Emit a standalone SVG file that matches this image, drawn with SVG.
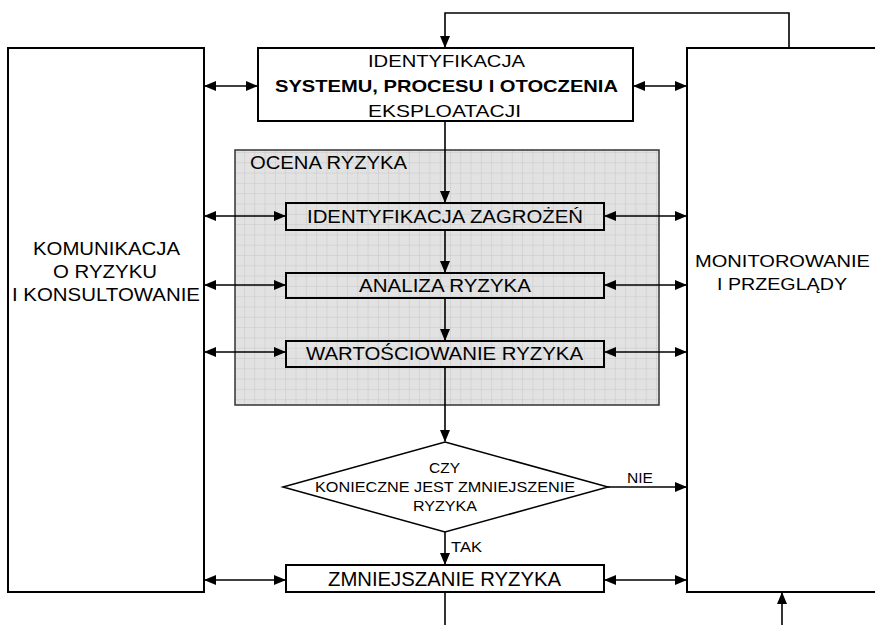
<svg xmlns="http://www.w3.org/2000/svg" width="875" height="625" viewBox="0 0 875 625">
<style>
.box{fill:#fff;stroke:#000;stroke-width:2}
.ibox{fill:none;stroke:#000;stroke-width:2}
.t{font-family:"Liberation Sans",Arial,sans-serif;font-size:17px;fill:#000}
.l{font-size:18px}
.z{font-size:20px}
.s{font-family:"Liberation Sans",Arial,sans-serif;font-size:15px;fill:#000}
.n{font-family:"Liberation Sans",Arial,sans-serif;font-size:14px;fill:#000}
.b{font-weight:bold}
.c{stroke:#000;stroke-width:1.6;fill:none}
</style>
<defs>
<marker id="ah" markerUnits="userSpaceOnUse" markerWidth="12" markerHeight="10" refX="11" refY="5" orient="auto-start-reverse" viewBox="0 0 12 10">
<path d="M0,0 L12,5 L0,10 Z" fill="#000"/>
</marker>
<pattern id="grid" patternUnits="userSpaceOnUse" width="10.3" height="10.3" x="244" y="152">
<rect width="10.3" height="10.3" fill="#e2e2e2"/>
<path d="M0,0 H10.3 M0,0 V10.3" stroke="#c6c6c6" stroke-width="1"/>
</pattern>
</defs>

<g id="ocena">
<rect x="235" y="150" width="424" height="255" fill="url(#grid)" stroke="#333" stroke-width="1.5"/>
<text class="t l" x="250" y="169" textLength="157" lengthAdjust="spacingAndGlyphs">OCENA RYZYKA</text>
</g>

<g id="komunikacja">
<rect class="box" x="8" y="48" width="196" height="544"/>
<text class="t l" x="33" y="255" textLength="147" lengthAdjust="spacingAndGlyphs">KOMUNIKACJA</text>
<text class="t l" x="53" y="278" textLength="104" lengthAdjust="spacingAndGlyphs">O RYZYKU</text>
<text class="t l" x="12" y="301" textLength="188" lengthAdjust="spacingAndGlyphs">I KONSULTOWANIE</text>
</g>

<g id="monitorowanie">
<path class="ibox" d="M876,48 H687 V592 H876"/>
<text class="t" x="695" y="267" textLength="175" lengthAdjust="spacingAndGlyphs">MONITOROWANIE</text>
<text class="t" x="717" y="290" textLength="130" lengthAdjust="spacingAndGlyphs">I PRZEGLĄDY</text>
</g>

<g id="identyfikacja-systemu">
<rect class="box" x="258" y="48" width="375" height="73"/>
<text class="t" x="368" y="67" textLength="157" lengthAdjust="spacingAndGlyphs">IDENTYFIKACJA</text>
<text class="t b" x="275" y="92" textLength="343" lengthAdjust="spacingAndGlyphs">SYSTEMU, PROCESU I OTOCZENIA</text>
<text class="t" x="368" y="117" textLength="153" lengthAdjust="spacingAndGlyphs">EKSPLOATACJI</text>
</g>

<g id="identyfikacja-zagrozen">
<rect class="ibox" x="286" y="203" width="318" height="27"/>
<text class="t l" x="307" y="223" textLength="276" lengthAdjust="spacingAndGlyphs">IDENTYFIKACJA ZAGROŻEŃ</text>
</g>

<g id="analiza">
<rect class="ibox" x="286" y="273" width="318" height="25"/>
<text class="t l" x="359" y="292" textLength="172" lengthAdjust="spacingAndGlyphs">ANALIZA RYZYKA</text>
</g>

<g id="wartosciowanie">
<rect class="ibox" x="286" y="341" width="318" height="26"/>
<text class="t l" x="306" y="360" textLength="277" lengthAdjust="spacingAndGlyphs">WARTOŚCIOWANIE RYZYKA</text>
</g>

<g id="decyzja">
<polygon points="445,442 608,487 445,532 283,487" fill="#fff" stroke="#000" stroke-width="1.5"/>
<text class="s" x="429" y="473" textLength="31" lengthAdjust="spacingAndGlyphs">CZY</text>
<text class="s" x="315" y="492" textLength="260" lengthAdjust="spacingAndGlyphs">KONIECZNE JEST ZMNIEJSZENIE</text>
<text class="s" x="413" y="511" textLength="64" lengthAdjust="spacingAndGlyphs">RYZYKA</text>
</g>

<g id="zmniejszanie">
<rect class="box" x="286" y="565" width="318" height="27"/>
<text class="t z" x="328" y="586" textLength="233" lengthAdjust="spacingAndGlyphs">ZMNIEJSZANIE RYZYKA</text>
</g>

<g id="connectors">
<path class="c" d="M789,48 V13 H445 V47" marker-end="url(#ah)"/>
<line class="c" x1="205" y1="86" x2="257" y2="86" marker-start="url(#ah)" marker-end="url(#ah)"/>
<line class="c" x1="634" y1="86" x2="686" y2="86" marker-start="url(#ah)" marker-end="url(#ah)"/>
<line class="c" x1="445" y1="121" x2="445" y2="202" marker-end="url(#ah)"/>
<line class="c" x1="445" y1="230" x2="445" y2="272" marker-end="url(#ah)"/>
<line class="c" x1="445" y1="298" x2="445" y2="340" marker-end="url(#ah)"/>
<line class="c" x1="445" y1="367" x2="445" y2="441" marker-end="url(#ah)"/>
<line class="c" x1="445" y1="532" x2="445" y2="564" marker-end="url(#ah)"/>
<line class="c" x1="445" y1="592" x2="445" y2="625"/>
<line class="c" x1="205" y1="216" x2="285" y2="216" marker-start="url(#ah)" marker-end="url(#ah)"/>
<line class="c" x1="605" y1="216" x2="686" y2="216" marker-start="url(#ah)" marker-end="url(#ah)"/>
<line class="c" x1="205" y1="285" x2="285" y2="285" marker-start="url(#ah)" marker-end="url(#ah)"/>
<line class="c" x1="605" y1="285" x2="686" y2="285" marker-start="url(#ah)" marker-end="url(#ah)"/>
<line class="c" x1="205" y1="352" x2="285" y2="352" marker-start="url(#ah)" marker-end="url(#ah)"/>
<line class="c" x1="605" y1="352" x2="686" y2="352" marker-start="url(#ah)" marker-end="url(#ah)"/>
<line class="c" x1="608" y1="487" x2="686" y2="487" marker-end="url(#ah)"/>
<line class="c" x1="205" y1="580" x2="285" y2="580" marker-start="url(#ah)" marker-end="url(#ah)"/>
<line class="c" x1="605" y1="580" x2="686" y2="580" marker-start="url(#ah)" marker-end="url(#ah)"/>
<line class="c" x1="782" y1="625" x2="782" y2="593" marker-end="url(#ah)"/>
<text class="n" x="627" y="483" textLength="26" lengthAdjust="spacingAndGlyphs">NIE</text>
<text class="n" x="451" y="552" textLength="31" lengthAdjust="spacingAndGlyphs">TAK</text>
</g>
</svg>
